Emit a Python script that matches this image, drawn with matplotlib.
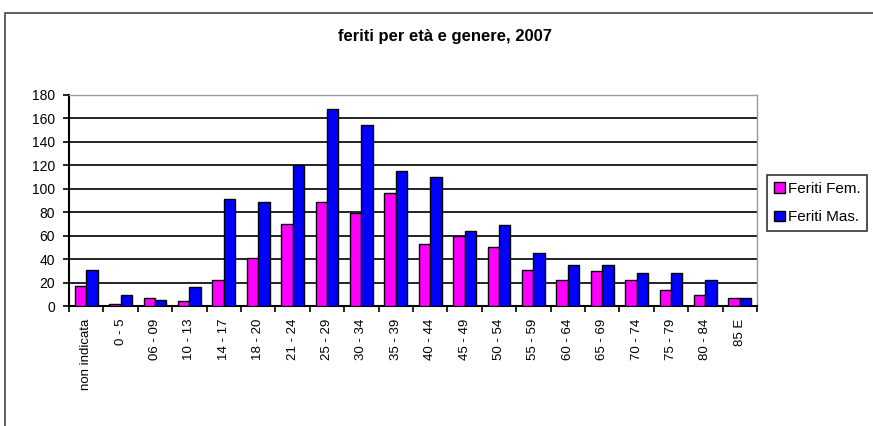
import numpy as np
import matplotlib.pyplot as plt
from matplotlib.patches import Rectangle

plt.rcParams['font.family'] = ['Liberation Sans', 'DejaVu Sans']

# dati: feriti per età e genere, 2007
eta = ['non indicata', '0 - 5', '06 - 09', '10 - 13', '14 - 17', '18 - 20',
       '21 - 24', '25 - 29', '30 - 34', '35 - 39', '40 - 44', '45 - 49',
       '50 - 54', '55 - 59', '60 - 64', '65 - 69', '70 - 74', '75 - 79',
       '80 - 84', '85 E']
feriti_fem = [17, 2, 7, 4, 22, 41, 70, 89, 79, 96, 53, 60, 50, 31, 22, 30, 22, 14, 9, 7]
feriti_mas = [31, 9, 5, 16, 91, 89, 120, 168, 154, 115, 110, 64, 69, 45, 35, 35, 28, 28, 22, 7]

W, H = 873, 426
fig = plt.figure(figsize=(W / 100, H / 100), dpi=100)

# cornice esterna (tagliata a destra e in basso)
fig.patches.append(Rectangle((5 / W, -0.1), 1.2, 1 - 13 / H + 0.1,
                             transform=fig.transFigure, fill=False,
                             edgecolor='#444444', linewidth=1.2))

ax = fig.add_axes([69 / W, 1 - 306 / H, (757 - 69) / W, (306 - 95) / H])

x = np.arange(len(eta))
w = 0.33
ax.bar(x - w / 2, feriti_fem, w, color='#FF00FF', edgecolor='black', linewidth=1, label='Feriti Fem.', zorder=3)
ax.bar(x + w / 2, feriti_mas, w, color='#0000FF', edgecolor='black', linewidth=1, label='Feriti Mas.', zorder=3)

ax.set_xlim(-0.5, len(eta) - 0.5)
ax.set_ylim(0, 180)
ax.set_yticks(range(0, 181, 20))
ax.yaxis.grid(True, color='black', linewidth=1.2, zorder=0)
ax.tick_params(axis='y', labelsize=10, length=4, width=1.2, pad=6)

ax.set_xticks(x)
ax.set_xticklabels(eta, rotation=90, fontsize=9.5)
ax.tick_params(axis='x', which='major', length=0, pad=9)
ax.set_xticks(np.arange(-0.5, len(eta), 1), minor=True)
ax.tick_params(axis='x', which='minor', length=4.5, width=1.2)

for s in ['top', 'right']:
    ax.spines[s].set_color('#999999')
    ax.spines[s].set_linewidth(1)
for s in ['left', 'bottom']:
    ax.spines[s].set_linewidth(1.5)

fig.text(445 / W, 1 - 37 / H, 'feriti per età e genere, 2007', ha='center', va='center',
         fontsize=12, fontweight='bold')

leg = fig.legend(loc='upper left', bbox_to_anchor=(767 / W, 1 - 175 / H),
                 fontsize=11, frameon=True, fancybox=False, edgecolor='black',
                 handlelength=0.7, handleheight=0.7, handletextpad=0.2,
                 labelspacing=0.95, borderpad=0.45, borderaxespad=0)
leg.get_frame().set_linewidth(1.2)

fig.savefig('out.png', dpi=100)
